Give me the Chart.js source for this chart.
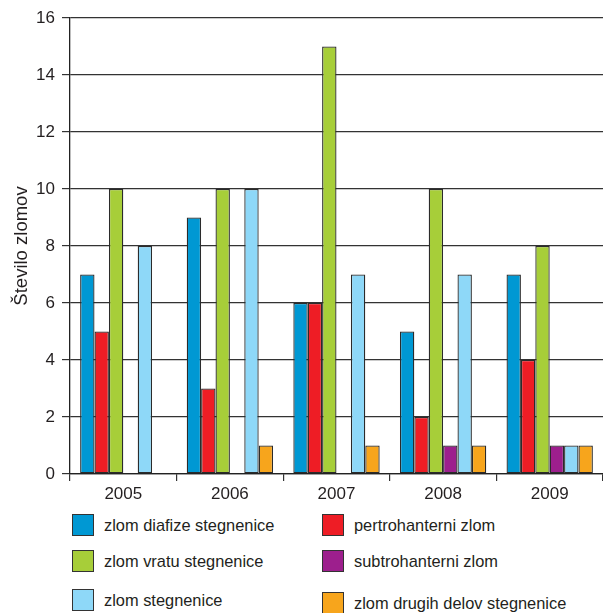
<!DOCTYPE html>
<html>
<head>
<meta charset="utf-8">
<script src="https://cdn.jsdelivr.net/npm/chart.js@4"></script>
<style>
  html, body { margin: 0; padding: 0; background: #fff; }
  #wrap { position: relative; width: 603px; height: 613px; overflow: hidden; font-family: "Liberation Sans", Arial, sans-serif; }
  #c { position: absolute; left: 0; top: 0; }
  .item { position: absolute; display: flex; align-items: center; font-size: 16.4px; color: #231f20; white-space: nowrap; }
  .sw { width: 20px; height: 20px; border: 1.5px solid #333; margin-right: 10px; flex: none; }
</style>
</head>
<body>
<div id="wrap">
  <canvas id="c" width="603" height="505"></canvas>
  <div id="legend"></div>
</div>
<script>
const categories = ['2005', '2006', '2007', '2008', '2009'];
const diafize = [7, 9, 6, 5, 7];
const pertrohanterni = [5, 3, 6, 2, 4];
const vratu = [10, 10, 15, 10, 8];
const subtrohanterni = [0, 0, 0, 1, 1];
const stegnenice = [8, 10, 7, 7, 1];
const drugih = [0, 1, 1, 1, 1];
const seriesNames = ['zlom diafize stegnenice', 'pertrohanterni zlom', 'zlom vratu stegnenice', 'subtrohanterni zlom', 'zlom stegnenice', 'zlom drugih delov stegnenice'];
const seriesColors = ['#0098d3', '#ee1d25', '#a7ce39', '#9d1f8d', '#8ed8f8', '#f7a51c'];
const yTitle = 'Število zlomov';

const seriesData = [diafize, pertrohanterni, vratu, subtrohanterni, stegnenice, drugih];
const datasets = seriesData.map((d, i) => ({
  label: seriesNames[i],
  data: d.map(v => v === 0 ? null : v),
  backgroundColor: seriesColors[i],
  borderColor: '#2b2b2b',
  borderWidth: 1.3,
  borderSkipped: false,
  categoryPercentage: 0.81,
  barPercentage: 1.0
}));

Chart.defaults.font.family = '"Liberation Sans", Arial, sans-serif';
Chart.defaults.color = '#231f20';

new Chart(document.getElementById('c'), {
  type: 'bar',
  data: { labels: categories, datasets },
  options: {
    responsive: false,
    animation: false,
    layout: { padding: { top: 18, right: 0, left: 0, bottom: 0 } },
    plugins: { legend: { display: false }, tooltip: { enabled: false } },
    scales: {
      x: {
        grid: { offset: true, drawOnChartArea: false, color: '#333', lineWidth: 1.2, tickLength: 7 },
        border: { color: '#222', width: 1.3 },
        ticks: { font: { size: 17 }, padding: 3, color: '#231f20' },
        afterFit: s => { s.height = 31; }
      },
      y: {
        min: 0, max: 16,
        ticks: { stepSize: 2, font: { size: 17 }, padding: 7, color: '#231f20' },
        grid: { color: '#333', lineWidth: 1.2, tickLength: 8 },
        border: { color: '#222', width: 1.3 },
        title: { display: true, text: yTitle, font: { size: 18.5 }, color: '#231f20', padding: { top: 11, bottom: 0 } },
        afterFit: s => { s.width = 70; }
      }
    }
  }
});

// HTML legend, two columns
const legendPos = [
  { x: 72, y: 526 }, { x: 322, y: 526 },
  { x: 72, y: 562 }, { x: 322, y: 562 },
  { x: 72, y: 601 }, { x: 322, y: 604 }
];
const leg = document.getElementById('legend');
seriesNames.forEach((name, i) => {
  const it = document.createElement('div');
  it.className = 'item';
  it.style.left = legendPos[i].x + 'px';
  it.style.top = (legendPos[i].y - 12) + 'px';
  const sw = document.createElement('div');
  sw.className = 'sw';
  sw.style.background = seriesColors[i];
  const tx = document.createElement('span');
  tx.textContent = name;
  it.appendChild(sw);
  it.appendChild(tx);
  leg.appendChild(it);
});
</script>
</body>
</html>
